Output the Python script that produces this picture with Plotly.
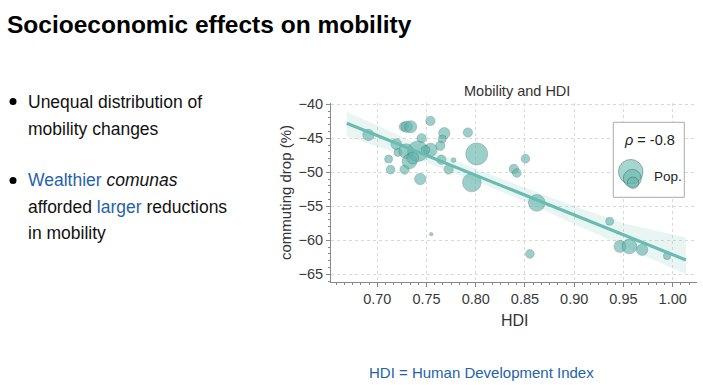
import plotly.graph_objects as go

# ---------------- data ----------------
hdi = [0.691, 0.727, 0.730, 0.734, 0.754, 0.768, 0.766, 0.764, 0.745, 0.792,
       0.801, 0.796, 0.8505, 0.8387, 0.8417, 0.7193, 0.721, 0.7115, 0.7135, 0.7277,
       0.7294, 0.7328, 0.7413, 0.7541, 0.7436, 0.765, 0.7724, 0.7775, 0.7548, 0.862,
       0.855, 0.936, 0.9465, 0.956, 0.969, 0.9943, 0.749, 0.736]
commuting_drop = [-44.5, -43.3, -43.3, -43.3, -42.45, -44.25, -45.1, -46.1, -45.0, -44.15,
                  -47.3, -51.5, -48.0, -49.5, -50.1, -45.86, -47.08, -48.06, -49.6, -49.6,
                  -46.9, -48.4, -46.9, -46.7, -50.99, -48.15, -49.6, -48.2, -59.1, -54.5,
                  -62.0, -57.2, -60.9, -60.9, -61.4, -62.3, -46.7, -47.9]
population_k = [128, 86, 128, 144, 86, 128, 64, 86, 86, 86,
                484, 350, 75, 86, 75, 114, 64, 64, 75, 86,
                216, 216, 420, 177, 128, 86, 86, 22, 11, 279,
                75, 64, 144, 216, 128, 53, 75, 144]

# fitted regression line and confidence band
fit_x = [0.669, 0.75, 0.80, 0.85, 0.90, 0.95, 1.0135]
fit_y = [-42.8, -47.5, -50.4, -53.3, -56.3, -59.2, -62.9]
band_upper = [-41.1, -46.4, -49.5, -52.3, -55.0, -57.5, -59.6]
band_lower = [-44.7, -48.6, -51.3, -54.3, -57.6, -60.9, -65.0]

x_ticks = [0.70, 0.75, 0.80, 0.85, 0.90, 0.95, 1.00]
y_ticks = [-40, -45, -50, -55, -60, -65]
rho_text = "-0.8"

# ---------------- geometry helpers ----------------
W, H = 703, 385
L, R, T, B = 331, 6, 103, 103
PW, PH = W - L - R, H - T - B


def xp(px):
    return (px - L) / PW


def yp(py):
    return (H - B - py) / PH


TEAL = "rgb(95,180,170)"
SANS = "Liberation Sans, Arial, Helvetica, sans-serif"
BLUE = "rgb(38,98,170)"

fig = go.Figure()

# confidence band
fig.add_trace(go.Scatter(x=fit_x, y=band_upper, mode="lines", line=dict(width=0),
                         hoverinfo="skip", showlegend=False))
fig.add_trace(go.Scatter(x=fit_x, y=band_lower, mode="lines", line=dict(width=0),
                         fill="tonexty", fillcolor="rgba(110,190,180,0.16)",
                         hoverinfo="skip", showlegend=False))

# bubbles
max_d = 22.0
fig.add_trace(go.Scatter(
    x=hdi, y=commuting_drop, mode="markers", showlegend=False,
    marker=dict(size=population_k, sizemode="area",
                sizeref=2.0 * max(population_k) / (max_d ** 2),
                color=TEAL, opacity=0.62,
                line=dict(color="rgba(60,90,88,0.6)", width=0.8)),
))

# regression line
fig.add_trace(go.Scatter(x=fit_x, y=fit_y, mode="lines",
                         line=dict(color="rgb(104,188,178)", width=3.2),
                         hoverinfo="skip", showlegend=False))

fig.update_layout(
    width=W, height=H,
    margin=dict(l=L, r=R, t=T, b=B, pad=0),
    paper_bgcolor="white", plot_bgcolor="white",
    showlegend=False,
    font=dict(family=SANS, color="#444"),
)

fig.update_xaxes(
    range=[0.653, 1.0247], tickvals=x_ticks, ticktext=[f"{v:.2f}" for v in x_ticks],
    showline=True, linecolor="#888", linewidth=1, mirror=False,
    ticks="outside", ticklen=4, tickcolor="#888",
    showgrid=True, gridcolor="#d9d9d9", griddash="dot", gridwidth=1,
    zeroline=False, tickfont=dict(family=SANS, size=14.5, color="#3a3a3a"),
    minor=dict(dtick=0.05 / 6, tick0=0.70, ticks="outside", ticklen=2, tickcolor="#888",
               showgrid=False),
)
fig.update_yaxes(
    range=[-66.13, -39.81], tickvals=y_ticks, ticktext=[f"\u2212{abs(v)}" for v in y_ticks],
    showline=True, linecolor="#888", linewidth=1, mirror=False,
    ticks="outside", ticklen=4, tickcolor="#888",
    showgrid=True, gridcolor="#d9d9d9", griddash="dot", gridwidth=1,
    zeroline=False, tickfont=dict(family=SANS, size=14.5, color="#3a3a3a"),
    minor=dict(dtick=1, tick0=-40, ticks="outside", ticklen=2, tickcolor="#888",
               showgrid=False),
)

shapes = []
# legend box
shapes.append(dict(type="rect", xref="paper", yref="paper",
                   x0=xp(613.3), x1=xp(684.3), y0=yp(197.3), y1=yp(122.3),
                   line=dict(color="#aaaaaa", width=1), fillcolor="white", layer="above"))
for cx, cy, r in [(630.7, 171.7, 12.3), (632.3, 178.3, 9.0), (633.0, 182.7, 5.7)]:
    shapes.append(dict(type="circle", xref="paper", yref="paper",
                       x0=xp(cx - r), x1=xp(cx + r), y0=yp(cy + r), y1=yp(cy - r),
                       line=dict(color="rgba(60,90,88,0.55)", width=0.8),
                       fillcolor="rgba(95,180,170,0.55)", layer="above"))
# bullets
for cy in [101.5, 180.5]:
    shapes.append(dict(type="circle", xref="paper", yref="paper",
                       x0=xp(9.5), x1=xp(16.5), y0=yp(cy + 3.5), y1=yp(cy - 3.5),
                       line=dict(width=0), fillcolor="black"))
fig.update_layout(shapes=shapes)

ann = []


def add_text(text, px, py, size, family, color="#000", xanchor="left", yanchor="middle", angle=0):
    ann.append(dict(text=text, x=xp(px), y=yp(py), xref="paper", yref="paper",
                    showarrow=False, xanchor=xanchor, yanchor=yanchor, textangle=angle,
                    font=dict(size=size, family=family, color=color)))


# slide title
add_text("<b>Socioeconomic effects on mobility</b>", 5, 24, 24.5, SANS, "#000")
# bullets
add_text("Unequal distribution of", 26, 102, 17.5, SANS, "#111")
add_text("mobility changes", 26, 128.5, 17.5, SANS, "#111")
add_text(f"<span style='color:{BLUE}'>Wealthier</span> <i>comunas</i>", 26, 180, 17.5, SANS, "#111")
add_text(f"afforded <span style='color:{BLUE}'>larger</span> reductions", 26, 206.5, 17.5, SANS, "#111")
add_text("in mobility", 26, 233, 17.5, SANS, "#111")
# chart title and axis titles
add_text("Mobility and HDI", 516.5, 91, 14.5, SANS, "#333", xanchor="center")
add_text("HDI", 515, 320, 16, SANS, "#333", xanchor="center")
add_text("commuting drop (%)", 285, 193, 15, SANS, "#333", xanchor="center", angle=-90)
# legend texts
add_text(f"<i>\u03c1</i> = {rho_text}", 649.3, 140, 14.5, SANS, "#222", xanchor="center")
add_text("Pop.", 651.5, 176, 13.5, SANS, "#222")
# footer
add_text("HDI = Human Development Index", 481, 372, 15, SANS, BLUE, xanchor="center")

fig.update_layout(annotations=ann)

fig.write_html("out.html", config={"displayModeBar": False},
               post_script="document.body.style.margin='0';document.body.style.overflow='hidden';")
